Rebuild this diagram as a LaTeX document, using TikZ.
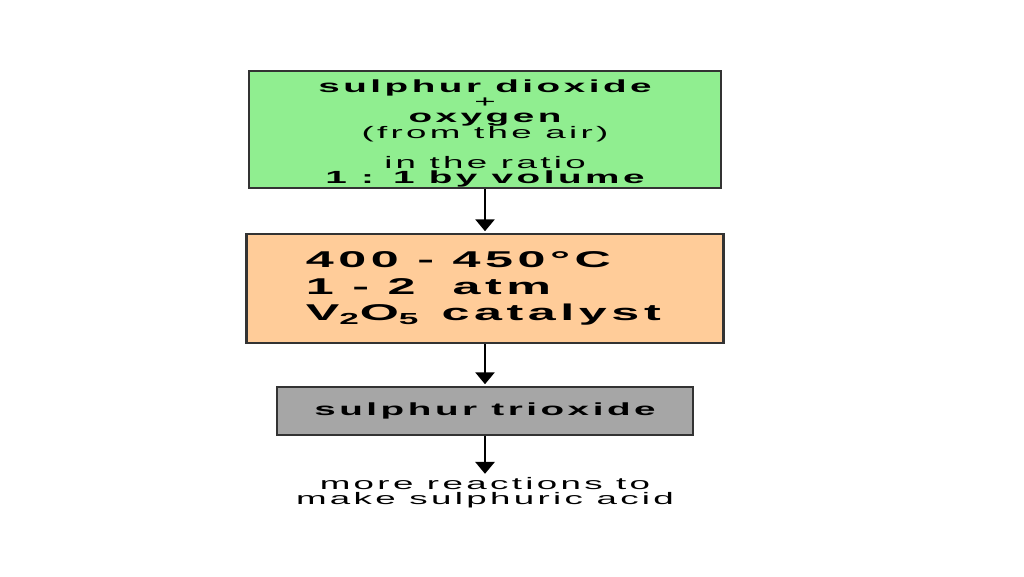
\documentclass[tikz,border=0pt]{standalone}
\usepackage{fontspec}
\usepackage{xcolor}
\usetikzlibrary{arrows.meta, positioning}
\newfontfamily\widefont[FakeStretch=2.2, LetterSpace=20]{Liberation Sans}
\newcommand{\heavyline}[1]{{\bfseries\fontsize{10pt}{8.6pt}\selectfont #1}}
\definecolor{boxgreen}{HTML}{90EE90}
\definecolor{boxorange}{HTML}{FFCC99}
\definecolor{boxgrey}{HTML}{A6A6A6}
\definecolor{boxline}{HTML}{333333}

\begin{document}
\begin{tikzpicture}[x=0.02cm, y=-0.02cm,
        stage/.style={draw=boxline, line width=1.2pt, inner sep=0pt},
        wide/.style={font={\widefont\fontsize{9.5pt}{#1}\selectfont\lineskiplimit=-20pt}},
        flow/.style={-{Triangle[length=6.8pt, width=11pt]}, line width=1.1pt, shorten >=1pt}]
    \fill[white] (0,0) rectangle (1024,576);

    % boxes
    \node[stage, fill=boxgreen, minimum width=9.44cm, minimum height=2.34cm] (feed) at (485,129.5) {};
    \node[inner sep=0pt, align=center, wide=8.6pt] (feedtext) at ([yshift=-0.08cm]feed.center)
        {\heavyline{sulphur dioxide}\\ +\\ \heavyline{oxygen}\\
         (from the air)\\[8.6pt] in the ratio\\ \heavyline{1 : 1 by volume}};
    \node[stage, fill=boxorange, minimum width=9.54cm, minimum height=2.18cm] (conditions) at (485,288.5) {};
    \node[anchor=west, inner sep=0pt, align=left,
          font={\widefont\bfseries\fontsize{13pt}{15pt}\selectfont\lineskiplimit=-20pt}] (conditionstext)
          at ([xshift=1.2cm]conditions.west)
        {400 - 450°C\\ 1 - 2 \ atm\\ V\textsubscript{2}O\textsubscript{5} \,catalyst};
    \node[stage, fill=boxgrey, minimum width=8.32cm, minimum height=0.96cm, wide=8.6pt] (product) at (485,411)
        {\heavyline{sulphur trioxide}};
    \node[inner sep=1pt, align=center, wide=8.6pt] (acid) at (485,493)
        {more reactions to\\ make sulphuric acid};

    % arrows
    \draw[flow] (feed.south) -- (conditions.north);
    \draw[flow] (conditions.south) -- (product.north);
    \draw[flow] (product.south) -- (acid.north);
\end{tikzpicture}
\end{document}
